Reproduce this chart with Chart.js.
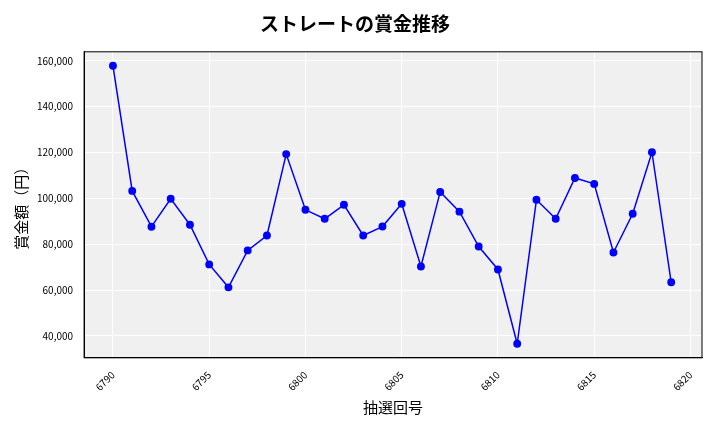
<!DOCTYPE html>
<html>
<head>
<meta charset="utf-8">
<script src="https://cdn.jsdelivr.net/npm/chart.js@4"></script>
<style>
  body { margin: 0; background: #fff; }
  #wrap { width: 720px; height: 432px; }
</style>
</head>
<body>
<div id="wrap"><canvas id="c"></canvas></div>
<script>
const draws = [6790, 6791, 6792, 6793, 6794, 6795, 6796, 6797, 6798, 6799,
  6800, 6801, 6802, 6803, 6804, 6805, 6806, 6807, 6808, 6809,
  6810, 6811, 6812, 6813, 6814, 6815, 6816, 6817, 6818, 6819];
const prizes = [157800, 103250, 87650, 99800, 88500, 71200, 61200, 77300, 83800, 119300,
  95000, 91100, 97200, 83800, 87700, 97600, 70300, 102800, 94200, 79000,
  69000, 36600, 99400, 91100, 108900, 106300, 76400, 93300, 120100, 63400];

const font = "'Noto Sans CJK JP', 'Noto Sans', sans-serif";

// grey plot area with a full frame, like the original
const plotBg = {
  id: 'plotBg',
  beforeDraw(chart) {
    const { ctx, chartArea: a } = chart;
    ctx.save();
    ctx.fillStyle = '#f0f0f0';
    ctx.fillRect(a.left, a.top, a.right - a.left, a.bottom - a.top);
    ctx.restore();
  },
  afterDraw(chart) {
    const { ctx, chartArea: a } = chart;
    ctx.save();
    ctx.strokeStyle = '#000';
    ctx.lineWidth = 1;
    ctx.strokeRect(a.left, a.top, a.right - a.left, a.bottom - a.top);
    ctx.restore();
  }
};

new Chart(document.getElementById('c'), {
  type: 'line',
  data: {
    datasets: [{
      data: draws.map((d, i) => ({ x: d, y: prizes[i] })),
      borderColor: '#0000ff',
      backgroundColor: '#0000ff',
      borderWidth: 1.5,
      pointRadius: 3.2,
      tension: 0
    }]
  },
  options: {
    responsive: true,
    maintainAspectRatio: false,
    animation: false,
    layout: { padding: { left: 8, right: 18, top: 4, bottom: 12 } },
    plugins: {
      legend: { display: false },
      title: {
        display: true,
        text: 'ストレートの賞金推移',
        color: '#000',
        font: { family: font, size: 19, weight: 'bold' },
        padding: { top: 8, bottom: 17 }
      }
    },
    scales: {
      x: {
        type: 'linear',
        min: 6788.5,
        max: 6820.6,
        afterBuildTicks(axis) {
          axis.ticks = [6790, 6795, 6800, 6805, 6810, 6815, 6820].map(v => ({ value: v }));
        },
        ticks: {
          color: '#000',
          font: { family: font, size: 10 },
          maxRotation: 45,
          minRotation: 45,
          callback: v => String(v)
        },
        grid: { color: '#ffffff', lineWidth: 1 },
        border: { color: '#000' },
        title: {
          display: true,
          text: '抽選回号',
          color: '#000',
          font: { family: font, size: 15 },
          padding: { top: 2 }
        }
      },
      y: {
        min: 30470,
        max: 163900,
        afterBuildTicks(axis) {
          axis.ticks = [40000, 60000, 80000, 100000, 120000, 140000, 160000].map(v => ({ value: v }));
        },
        ticks: {
          color: '#000',
          font: { family: font, size: 10 },
          callback: v => v.toLocaleString('en-US')
        },
        grid: { color: '#ffffff', lineWidth: 1 },
        border: { color: '#000' },
        title: {
          display: true,
          text: '賞金額（円）',
          color: '#000',
          font: { family: font, size: 15 }
        }
      }
    }
  },
  plugins: [plotBg]
});
</script>
</body>
</html>
